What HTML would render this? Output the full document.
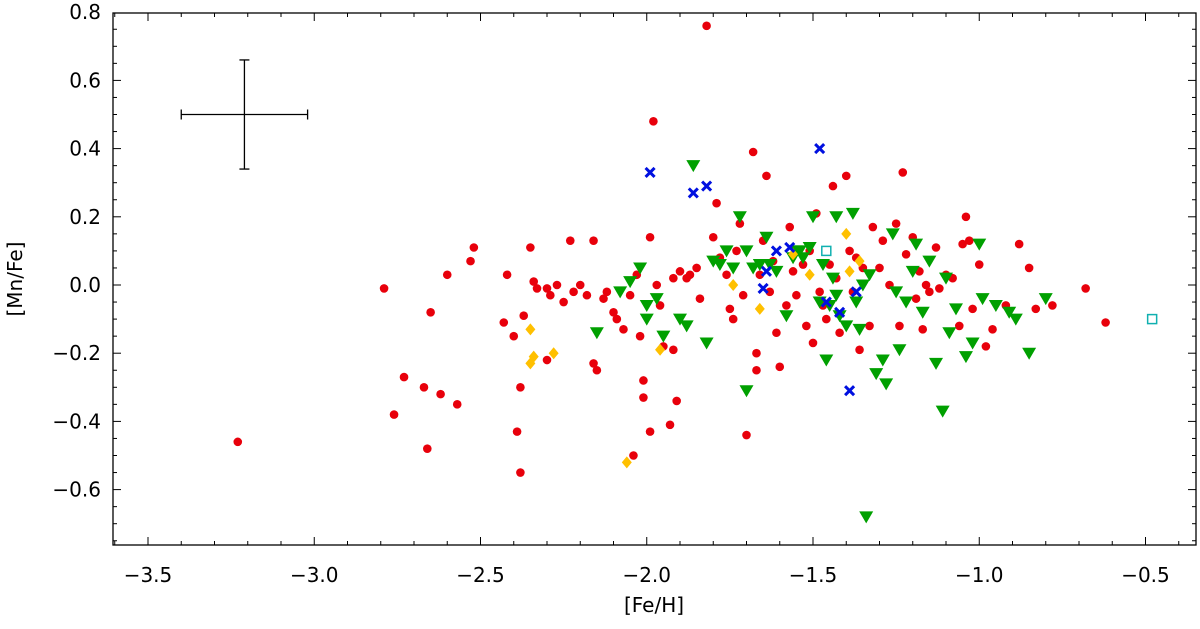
<!DOCTYPE html>
<html><head><meta charset="utf-8"><style>
body{margin:0;background:#fff;}
svg text{font-family:"DejaVu Sans","Liberation Sans",sans-serif;font-size:20px;fill:#000;}
</style></head><body>
<svg id="chart" width="1200" height="624" xmlns="http://www.w3.org/2000/svg">
<g id="axes"></g>
<g id="marks"></g>
</svg>
<script>
const xTicks=[-3.5,-3.0,-2.5,-2.0,-1.5,-1.0,-0.5];
const yTicks=[0.8,0.6,0.4,0.2,0,-0.2,-0.4,-0.6];
const redPts=[[-3.23,-0.46],[-2.79,-0.01],[-2.76,-0.38],[-2.73,-0.27],[-2.67,-0.30],[-2.66,-0.48],[-2.65,-0.08],[-2.62,-0.32],[-2.60,0.03],[-2.57,-0.35],[-2.53,0.07],[-2.52,0.11],[-2.43,-0.11],[-2.42,0.03],[-2.40,-0.15],[-2.39,-0.43],[-2.38,-0.30],[-2.38,-0.55],[-2.37,-0.09],[-2.35,0.11],[-2.34,0.01],[-2.33,-0.01],[-2.30,-0.22],[-2.29,-0.03],[-2.27,0.00],[-2.25,-0.05],[-2.23,0.13],[-2.22,-0.02],[-2.20,0.00],[-2.18,-0.03],[-2.16,0.13],[-2.16,-0.23],[-2.15,-0.25],[-2.13,-0.04],[-2.12,-0.02],[-2.10,-0.08],[-2.09,-0.10],[-2.07,-0.13],[-2.05,-0.03],[-2.04,-0.50],[-2.03,0.03],[-2.02,-0.15],[-2.01,-0.28],[-2.01,-0.33],[-1.99,0.14],[-1.99,-0.43],[-1.98,0.48],[-1.97,0.00],[-1.96,-0.06],[-1.95,-0.18],[-1.93,-0.41],[-1.92,0.02],[-1.91,-0.34],[-1.90,0.04],[-1.88,0.02],[-1.87,0.03],[-1.85,0.05],[-1.84,-0.04],[-1.82,0.76],[-1.80,0.14],[-1.79,0.24],[-1.78,0.08],[-1.76,0.03],[-1.75,-0.07],[-1.74,-0.10],[-1.73,0.10],[-1.72,0.18],[-1.71,-0.03],[-1.70,-0.44],[-1.68,0.39],[-1.67,-0.25],[-1.67,-0.20],[-1.66,0.03],[-1.65,0.13],[-1.64,0.32],[-1.63,-0.02],[-1.62,0.07],[-1.61,-0.14],[-1.60,-0.24],[-1.58,-0.06],[-1.57,0.17],[-1.56,0.04],[-1.55,-0.03],[-1.53,0.06],[-1.52,-0.12],[-1.51,0.10],[-1.50,-0.17],[-1.49,0.21],[-1.48,-0.02],[-1.47,-0.06],[-1.46,-0.10],[-1.45,0.06],[-1.44,0.29],[-1.43,0.02],[-1.42,-0.14],[-1.40,0.32],[-1.39,0.10],[-1.38,-0.02],[-1.37,0.08],[-1.36,-0.19],[-1.35,0.05],[-1.33,-0.12],[-1.32,0.17],[-1.30,0.05],[-1.29,0.13],[-1.27,0.00],[-1.25,0.18],[-1.24,-0.12],[-1.23,0.33],[-1.22,0.09],[-1.20,0.14],[-1.19,-0.04],[-1.18,0.04],[-1.17,-0.13],[-1.16,0.00],[-1.15,-0.02],[-1.13,0.11],[-1.12,-0.01],[-1.10,0.03],[-1.08,0.02],[-1.06,-0.12],[-1.05,0.12],[-1.04,0.20],[-1.03,0.13],[-1.02,-0.07],[-1.00,0.06],[-0.98,-0.18],[-0.96,-0.13],[-0.92,-0.06],[-0.88,0.12],[-0.85,0.05],[-0.83,-0.07],[-0.78,-0.06],[-0.68,-0.01],[-0.62,-0.11],[-1.92,-0.19],[-2.30,-0.01]];
const greenPts=[[-2.15,-0.14],[-2.08,-0.02],[-2.05,0.01],[-2.02,0.05],[-2.00,-0.06],[-2.00,-0.10],[-1.97,-0.04],[-1.95,-0.15],[-1.90,-0.10],[-1.88,-0.12],[-1.86,0.35],[-1.82,-0.17],[-1.80,0.07],[-1.78,0.06],[-1.76,0.10],[-1.74,0.05],[-1.72,0.20],[-1.70,-0.31],[-1.70,0.10],[-1.68,0.05],[-1.66,0.06],[-1.64,0.14],[-1.63,0.06],[-1.61,0.04],[-1.58,-0.09],[-1.56,0.08],[-1.55,0.10],[-1.53,0.08],[-1.51,0.11],[-1.50,0.20],[-1.48,-0.05],[-1.47,0.06],[-1.46,-0.22],[-1.45,-0.06],[-1.44,0.02],[-1.43,-0.03],[-1.42,-0.09],[-1.40,-0.12],[-1.38,0.21],[-1.37,-0.05],[-1.36,-0.13],[-1.35,0.00],[-1.34,-0.68],[-1.33,0.03],[-1.31,-0.26],[-1.29,-0.22],[-1.28,-0.29],[-1.26,0.15],[-1.25,-0.02],[-1.24,-0.19],[-1.22,-0.05],[-1.20,0.04],[-1.19,0.12],[-1.17,-0.08],[-1.15,0.07],[-1.13,-0.23],[-1.11,-0.37],[-1.10,0.02],[-1.09,-0.14],[-1.07,-0.07],[-1.04,-0.21],[-1.02,-0.17],[-1.00,0.12],[-0.99,-0.04],[-0.95,-0.06],[-0.91,-0.08],[-0.89,-0.10],[-0.85,-0.20],[-0.80,-0.04],[-1.43,0.20],[-1.54,0.10]];
const bluePts=[[-1.99,0.33],[-1.86,0.27],[-1.82,0.29],[-1.48,0.40],[-1.61,0.10],[-1.57,0.11],[-1.64,0.04],[-1.65,-0.01],[-1.46,-0.05],[-1.42,-0.08],[-1.39,-0.31],[-1.37,-0.02]];
const orangePts=[[-2.35,-0.13],[-2.35,-0.23],[-2.34,-0.21],[-2.28,-0.20],[-2.06,-0.52],[-1.96,-0.19],[-1.74,0.00],[-1.66,-0.07],[-1.56,0.09],[-1.51,0.03],[-1.40,0.15],[-1.39,0.04],[-1.36,0.07]];
const cyanPts=[[-1.46,0.10],[-0.48,-0.10]];
const errBar=[-3.21,0.50,0.19,0.16];
const NS="http://www.w3.org/2000/svg";
const L=113,R=1196,T=13,B=545;
const X=v=>148+(v+3.5)*332.5;
const Y=v=>285-v*341;
const ax=document.getElementById('axes'),mk=document.getElementById('marks');
function el(t,a,p){const e=document.createElementNS(NS,t);for(const k in a)e.setAttribute(k,a[k]);p.appendChild(e);return e;}
let f=el('rect',{x:L,y:T,width:R-L,height:B-T,fill:'none',stroke:'#000','stroke-width':1.3},ax);


for(let v=-3.6;v<=-0.35;v+=0.1){const x=X(v);if(x<L||x>R)continue;const major=Math.abs(v*2-Math.round(v*2))<1e-6;
 el('line',{x1:x,x2:x,y1:B,y2:B-(major?8:4),stroke:'#000'},ax);el('line',{x1:x,x2:x,y1:T,y2:T+(major?8:4),stroke:'#000'},ax);}
for(let v=-0.75;v<=0.8;v+=0.05){const y=Y(v);if(y<T-1||y>B)continue;const major=Math.abs(v*5-Math.round(v*5))<1e-6;
 el('line',{x1:L,x2:L+(major?8:4),y1:y,y2:y,stroke:'#000'},ax);el('line',{x1:R,x2:R-(major?8:4),y1:y,y2:y,stroke:'#000'},ax);}
xTicks.forEach(v=>{const t=el('text',{x:X(v),y:582,'text-anchor':'middle'},ax);t.textContent=(v<0?'\u2212':'')+Math.abs(v).toFixed(1);

});
yTicks.forEach(v=>{const t=el('text',{x:101,y:Y(v)+7,'text-anchor':'end'},ax);t.textContent=(v<0?'\u2212':'')+Math.abs(v).toFixed(1);

});
let xt=el('text',{x:654,y:612,'text-anchor':'middle'},ax);xt.textContent='[Fe/H]';


let yt=el('text',{x:22,y:279,'text-anchor':'middle',transform:'rotate(-90 22 279)'},ax);yt.textContent='[Mn/Fe]';


const eg=el('g',{stroke:'#000','stroke-width':1.3},mk);


const ex=X(errBar[0]),ey=Y(errBar[1]),x1=X(errBar[0]-errBar[2]),x2=X(errBar[0]+errBar[2]),y1=Y(errBar[1]+errBar[3]),y2=Y(errBar[1]-errBar[3]);
el('line',{x1:x1,x2:x2,y1:ey,y2:ey},eg);el('line',{x1:ex,x2:ex,y1:y1,y2:y2},eg);
el('line',{x1:x1,x2:x1,y1:ey-5,y2:ey+5},eg);el('line',{x1:x2,x2:x2,y1:ey-5,y2:ey+5},eg);
el('line',{x1:ex-5,x2:ex+5,y1:y1,y2:y1},eg);el('line',{x1:ex-5,x2:ex+5,y1:y2,y2:y2},eg);
redPts.forEach(p=>{const c=el('circle',{cx:X(p[0]),cy:Y(p[1]),r:4.3,fill:'#e8000b'},mk);

});
greenPts.forEach(p=>{const x=X(p[0]),y=Y(p[1]);const c=el('polygon',{points:`${x-7},${y-5.5} ${x+7},${y-5.5} ${x},${y+6.5}`,fill:'#00a000'},mk);

});
orangePts.forEach(p=>{const x=X(p[0]),y=Y(p[1]);const c=el('polygon',{points:`${x},${y-6} ${x+5},${y} ${x},${y+6} ${x-5},${y}`,fill:'#ffc000'},mk);

});
bluePts.forEach(p=>{const x=X(p[0]),y=Y(p[1]);const c=el('path',{d:`M${x-4.5} ${y-4.5}L${x+4.5} ${y+4.5}M${x-4.5} ${y+4.5}L${x+4.5} ${y-4.5}`,stroke:'#0010e0','stroke-width':3,fill:'none'},mk);

});
cyanPts.forEach(p=>{const c=el('rect',{x:X(p[0])-4.5,y:Y(p[1])-4.5,width:9,height:9,fill:'none',stroke:'#10b0b0','stroke-width':1.5},mk);

});
</script>
</body></html>
